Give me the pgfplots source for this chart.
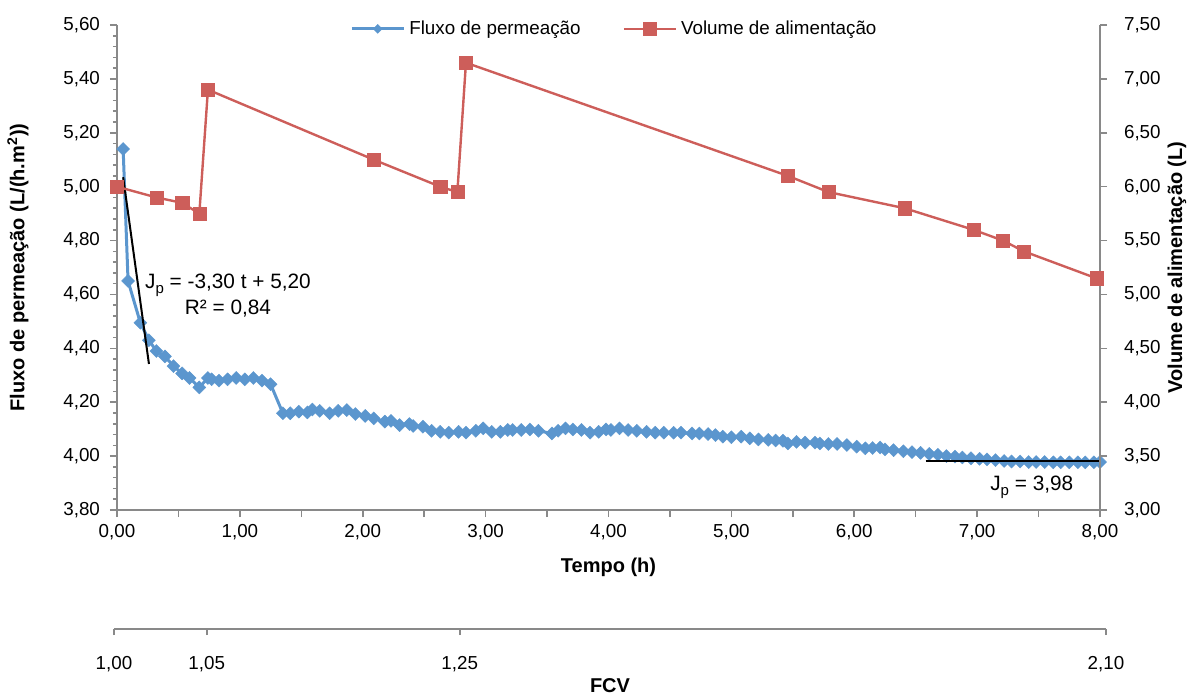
\documentclass[border=0pt]{standalone}
\usepackage{fontspec}
\setmainfont{Liberation Sans}
\usepackage{pgfplots}
\pgfplotsset{compat=1.18}
\definecolor{fluxblue}{RGB}{91,150,206}
\definecolor{volred}{RGB}{205,94,90}
\definecolor{axgray}{RGB}{137,137,137}
\newcommand{\sub}[1]{\raisebox{-0.25em}{\fontsize{7.5}{8}\selectfont #1}}
\pgfplotsset{
  base/.style={
    scale only axis, width=491.5pt, height=242.5pt,
    at={(0,0)}, anchor=south west,
    xmin=0, xmax=8,
    tick align=outside,
    axis line style={axgray, line width=0.9pt},
    every tick/.style={axgray, line width=0.8pt},
    major tick length=3.5pt, minor tick length=2pt,
    tick label style={font=\fontsize{9.4}{11}\selectfont, text=black},
    label style={font=\bfseries\fontsize{10}{12}\selectfont},
    /pgf/number format/assume math mode=true,
    /pgf/number format/fixed,
    /pgf/number format/fixed zerofill,
    /pgf/number format/precision=2,
    /pgf/number format/use comma,
  },
  fluxstyle/.style={fluxblue, line width=1.5pt, mark=square*, mark size=2.3pt,
    mark options={fill=fluxblue, draw=fluxblue, line width=0.2pt, rotate=45}},
  volstyle/.style={volred, line width=1.2pt, mark=square*, mark size=3.3pt,
    mark options={fill=volred, draw=volred, line width=0.2pt}},
}
\begin{document}
\begin{tikzpicture}
\path[use as bounding box] (-58.5pt,-92.5pt) rectangle (535pt,255pt);
% main axis: flux
\begin{axis}[base,
  clip=false,
  clip marker paths=true,
  axis x line*=bottom, axis y line*=left,
  ymin=3.8, ymax=5.6,
  ytick={3.8,4,4.2,4.4,4.6,4.8,5,5.2,5.4,5.6},
  minor y tick num=4,
  yticklabel style={xshift=-1.5pt},
  xtick={0,0.5,1,1.5,2,2.5,3,3.5,4,4.5,5,5.5,6,6.5,7,7.5,8},
  xticklabels={{0,00},{},{1,00},{},{2,00},{},{3,00},{},{4,00},{},{5,00},{},{6,00},{},{7,00},{},{8,00}},
  xlabel={Tempo (h)},
  ylabel={Fluxo de permeação (L/(h.m\textsuperscript{2}))},
  xlabel style={at={(axis description cs:0.5,-0.1175)}, anchor=center},
  ylabel style={at={(axis description cs:-0.1007,0.5)}, anchor=center},
]
\addplot[fluxstyle] coordinates {
(0.05,5.14) (0.09,4.65) (0.19,4.495) (0.26,4.43) (0.32,4.39) (0.39,4.37)
(0.46,4.334) (0.53,4.307) (0.59,4.29) (0.67,4.255) (0.74,4.29) (0.77,4.285)
(0.83,4.28) (0.90,4.285) (0.97,4.29) (1.04,4.285) (1.11,4.29) (1.18,4.28)
(1.25,4.267) (1.35,4.159) (1.41,4.159) (1.48,4.165) (1.55,4.162) (1.59,4.173)
(1.65,4.168) (1.73,4.159) (1.80,4.168) (1.87,4.171) (1.94,4.156) (2.02,4.149)
(2.09,4.14) (2.18,4.128) (2.23,4.131) (2.30,4.115) (2.38,4.119) (2.41,4.112)
(2.49,4.109) (2.56,4.094) (2.63,4.09) (2.70,4.087) (2.78,4.09) (2.84,4.087)
(2.92,4.094) (2.98,4.103) (3.05,4.09) (3.12,4.09) (3.18,4.097) (3.22,4.097)
(3.29,4.097) (3.36,4.099) (3.43,4.094) (3.54,4.084) (3.59,4.094) (3.65,4.103)
(3.71,4.099) (3.78,4.097) (3.85,4.087) (3.92,4.09) (3.98,4.099) (4.02,4.097)
(4.09,4.103) (4.16,4.097) (4.23,4.094) (4.31,4.09) (4.38,4.087) (4.45,4.087)
(4.53,4.087) (4.59,4.087) (4.68,4.084) (4.74,4.084) (4.81,4.082) (4.87,4.078)
(4.93,4.072) (5.00,4.07) (5.08,4.072) (5.15,4.066) (5.22,4.062) (5.30,4.06)
(5.36,4.058) (5.42,4.057) (5.46,4.047) (5.53,4.053) (5.60,4.05) (5.68,4.05)
(5.72,4.047) (5.79,4.045) (5.86,4.045) (5.94,4.041) (6.02,4.035) (6.09,4.029)
(6.15,4.03) (6.21,4.032) (6.25,4.025) (6.32,4.022) (6.40,4.018) (6.47,4.015)
(6.54,4.012) (6.61,4.008) (6.68,4.005) (6.75,4.0) (6.82,3.998) (6.88,3.995)
(6.95,3.992) (7.02,3.99) (7.08,3.988) (7.15,3.985) (7.22,3.982) (7.28,3.98)
(7.35,3.98) (7.42,3.978) (7.48,3.978) (7.55,3.978) (7.62,3.977) (7.68,3.977)
(7.75,3.977) (7.82,3.977) (7.88,3.977) (7.95,3.977) (8.00,3.978)
};
\addplot[black, line width=1pt] coordinates {(0.05,5.035) (0.26,4.342)};
\addplot[black, line width=1pt] coordinates {(6.58,3.98) (8.0,3.98)};
\node[font=\fontsize{10.4}{12}\selectfont] at (axis cs:0.903,4.635) {J\sub{p} = -3,30 t + 5,20};
\node[font=\fontsize{10.4}{12}\selectfont] at (axis cs:0.903,4.546) {R² = 0,84};
\node[font=\fontsize{10.4}{12}\selectfont] at (axis cs:7.445,3.885) {J\sub{p} = 3,98};
\end{axis}
% secondary axis: volume
\begin{axis}[base,
  axis y line*=right, axis x line=none,
  ymin=3, ymax=7.5,
  ytick={3,3.5,4,4.5,5,5.5,6,6.5,7,7.5},
  yticklabel style={xshift=5pt},
  ylabel={Volume de alimentação (L)},
  ylabel style={at={(axis description cs:1.0783,0.5)}, anchor=center},
  legend columns=2,
  legend style={draw=none, fill=none, at={(axis description cs:0.507,0.992)}, anchor=center,
    font=\fontsize{9.4}{11}\selectfont,
    /tikz/every even column/.append style={column sep=19pt}},
  legend image code/.code={\draw[mark repeat=2, mark phase=2] plot coordinates {(0pt,0pt) (13pt,0pt) (26pt,0pt)};},
]
\addlegendimage{fluxstyle, mark size=1.6pt}
\addlegendentry{Fluxo de permeação}
\addplot[volstyle] coordinates {
(0,6.0) (0.32,5.9) (0.53,5.85) (0.67,5.75) (0.74,6.9) (2.09,6.25)
(2.63,6.0) (2.77,5.95) (2.84,7.15) (5.46,6.1) (5.79,5.95) (6.41,5.8)
(6.97,5.6) (7.21,5.5) (7.38,5.4) (7.97,5.15)
};
\addlegendentry{Volume de alimentação}
\end{axis}
% FCV axis
\begin{axis}[scale only axis, width=496pt, height=10pt,
  at={(-1.5pt,-59.5pt)}, anchor=south west,
  xmin=0, xmax=8, ymin=0, ymax=1,
  axis x line*=bottom, axis y line=none,
  tick align=outside,
  axis line style={axgray, line width=1.2pt},
  every tick/.style={axgray, line width=0.8pt},
  major tick length=3pt,
  xtick={0,0.748,2.788,8},
  xticklabels={{1,00},{1,05},{1,25},{2,10}},
  tick label style={font=\fontsize{9.4}{11}\selectfont, text=black},
  xticklabel style={yshift=-7pt},
  xlabel={FCV},
  label style={font=\bfseries\fontsize{10}{12}\selectfont},
  xlabel style={at={(axis description cs:0.5,0)}, anchor=center, yshift=-28.5pt},
]
\end{axis}
\end{tikzpicture}
\end{document}
